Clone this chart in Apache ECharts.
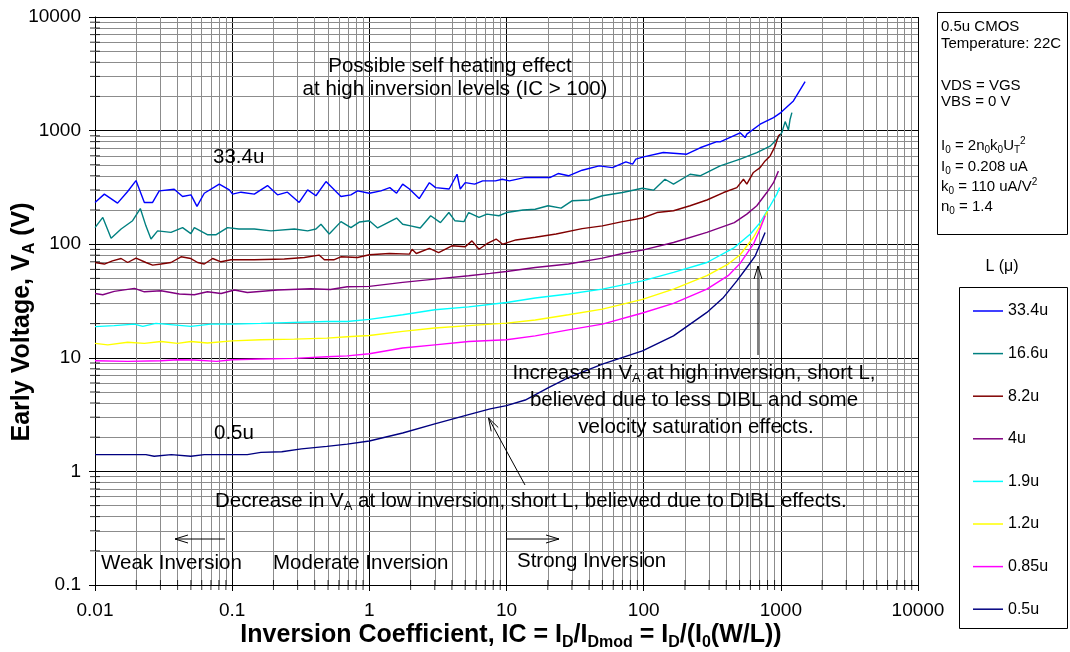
<!DOCTYPE html>
<html>
<head>
<meta charset="utf-8">
<title>Early Voltage vs Inversion Coefficient</title>
<script src="https://cdn.jsdelivr.net/npm/echarts@6/dist/echarts.min.js"></script>
<style>
  html, body { margin: 0; padding: 0; background: #fff; }
  #chart { width: 1070px; height: 652px; }
</style>
</head>
<body>
<div id="chart"></div>
<script>
const s33_4 = [[0.01,233],[0.0117,276],[0.0146,230],[0.0173,291],[0.0199,363],[0.0229,233],[0.0263,233],[0.0294,295],[0.0378,305],[0.0435,263],[0.0501,272],[0.0554,215],[0.0626,281],[0.0805,338],[0.0953,301],[0.1007,276],[0.116,287],[0.145,276],[0.181,328],[0.214,272],[0.253,287],[0.308,233],[0.355,301],[0.408,267],[0.483,356],[0.621,263],[0.734,272],[0.82,295],[1.0,281],[1.215,295],[1.41,315],[1.58,281],[1.75,338],[1.96,306],[2.31,252],[2.74,348],[3.04,315],[3.82,306],[4.36,413],[4.6,306],[5.0,348],[5.86,338],[6.7,361],[8.3,361],[9.3,373],[10.5,361],[13.5,386],[20.7,386],[23.8,419],[28.3,400],[35.6,448],[47.4,489],[59.2,472],[74.2,531],[83.1,506],[87.7,561],[100,587],[139,641],[206,620],[258,706],[342,800],[361,795],[505,957],[549,868],[565,930],[707,1138],[884,1301],[1000,1440],[1235,1826],[1503,2700]];
const s16_6 = [[0.01,140],[0.0114,172],[0.0131,113],[0.0155,136],[0.0188,161],[0.0214,206],[0.0235,145],[0.0256,111],[0.0286,131],[0.0358,127],[0.0435,140],[0.05,124],[0.053,140],[0.0664,121],[0.076,121],[0.0925,140],[0.112,136],[0.145,136],[0.192,131],[0.284,136],[0.355,131],[0.408,136],[0.444,150],[0.51,123],[0.621,158],[0.734,140],[0.85,157],[1.0,161],[1.15,139],[1.58,170],[1.75,150],[2.0,145],[2.35,139],[2.8,178],[3.3,155],[3.8,190],[4.2,161],[4.9,158],[5.3,190],[6.3,172],[7.2,184],[8.8,178],[10,190],[13.2,200],[16.2,203],[20.1,218],[25,208],[30,241],[40,245],[50,267],[70,285],[98,311],[118,299],[143,373],[165,338],[218,413],[258,400],[361,489],[505,561],[668,641],[836,730],[935,838],[1017,960],[1075,1200],[1136,1011],[1166,1245],[1204,1440]];
const s8_2 = [[0.01,69],[0.0117,66.9],[0.0134,71.4],[0.0155,74.8],[0.0173,69],[0.0199,75.5],[0.0235,69],[0.0263,65.5],[0.0303,66.9],[0.0358,69],[0.0424,77.5],[0.05,74.8],[0.056,69],[0.0626,66.9],[0.072,74.8],[0.0829,70],[0.098,72.9],[0.145,72.9],[0.24,74],[0.336,76.4],[0.43,80.2],[0.47,72.9],[0.55,72.9],[0.62,77.5],[0.82,76.4],[1.0,80.7],[1.4,82.8],[1.96,81.7],[2.05,90.2],[2.2,82.8],[2.74,91.9],[3.2,84.4],[4.0,96.8],[5.0,94.9],[5.6,107],[6.3,90.2],[7.2,101],[8.4,111],[9.4,100],[11.7,109],[16.2,115],[23,123],[35.6,137],[50,145],[70,158],[98,170],[125,190],[165,197],[218,218],[289,245],[382,285],[478,315],[534,373],[565,338],[631,428],[706,472],[768,541],[836,599],[909,730],[960,898],[988,930]];
const s4 = [[0.01,36.8],[0.0114,35.9],[0.0138,38.4],[0.0194,40.8],[0.0229,38.1],[0.0303,38.9],[0.0412,36.4],[0.053,35.9],[0.066,38.1],[0.083,36.8],[0.104,39.5],[0.129,37.6],[0.214,39.5],[0.375,40.5],[0.52,39.9],[0.69,42.2],[1.0,42.5],[1.75,46.1],[3.0,49.3],[5.3,52.8],[7.6,55.4],[10,57.5],[16.2,62.4],[28.3,66.9],[50,75.5],[70,82.8],[98,88.6],[165,103.5],[289,127],[458,155],[565,184],[668,218],[790,285],[884,348],[960,440]];
const s1_9 = [[0.01,18.8],[0.0138,19.2],[0.0194,19.8],[0.0223,18.9],[0.0278,20.1],[0.05,18.9],[0.07,19.8],[0.1,19.8],[0.162,20.1],[0.284,20.5],[0.49,20.9],[0.69,20.9],[1.0,21.8],[1.75,23.9],[3.0,26.5],[5.3,28.1],[10,30.7],[16.2,33.6],[28.3,36.4],[50,40.2],[98,47.6],[165,56.5],[289,69],[458,93.5],[600,123],[706,155],[836,218],[935,276],[980,315]];
const s1_2 = [[0.01,13.4],[0.0124,13.0],[0.0173,13.7],[0.0229,13.4],[0.0303,13.9],[0.04,13.4],[0.05,13.9],[0.066,13.5],[0.1,14.1],[0.162,14.4],[0.284,14.6],[0.49,14.9],[0.69,15.3],[1.0,15.7],[1.75,17.1],[3.0,18.3],[5.3,19.2],[10,20.2],[16.2,21.5],[28.3,23.9],[50,26.8],[98,32.7],[165,40.2],[289,52.8],[413,66.9],[505,80.7],[631,114.5],[728,155],[800,195]];
const s0_85 = [[0.01,9.43],[0.0173,9.3],[0.0303,9.43],[0.04,9.6],[0.053,9.56],[0.077,9.3],[0.1,9.6],[0.162,9.76],[0.284,9.88],[0.49,10.2],[0.69,10.4],[1.0,10.85],[1.75,12.2],[3.0,13.0],[5.3,13.9],[10,14.4],[16.2,15.6],[28.3,17.6],[50,19.8],[98,24.8],[165,30.1],[289,40.2],[413,52.8],[505,67.8],[631,100],[706,136],[768,178]];
const s0_5 = [[0.01,1.405],[0.0235,1.405],[0.027,1.36],[0.036,1.405],[0.05,1.36],[0.0626,1.405],[0.129,1.405],[0.162,1.47],[0.23,1.49],[0.32,1.58],[0.49,1.66],[0.69,1.74],[1.0,1.85],[1.75,2.18],[3.0,2.62],[5.3,3.16],[7.6,3.55],[10,3.79],[13.7,4.25],[20.4,5.49],[28.3,6.7],[50,8.8],[98,11.5],[165,15.6],[289,25.1],[382,34],[478,47.6],[565,62.4],[651,79],[768,127]];

const seriesNames = ["33.4u", "16.6u", "8.2u", "4u", "1.9u", "1.2u", "0.85u", "0.5u"];
const seriesColors = ["#0000ff", "#008080", "#800000", "#800080", "#00ffff", "#ffff00", "#ff00ff", "#000080"];
const seriesData = [s33_4, s16_6, s8_2, s4, s1_9, s1_2, s0_85, s0_5];

// axis decades, minor grid at 2..9 of each
const xDecades = [0.01, 0.1, 1, 10, 100, 1000];
const yDecades = [0.1, 1, 10, 100, 1000];
const minorSteps = [2, 3, 4, 5, 6, 7, 8, 9];

const FONT = "'Liberation Sans', Arial, sans-serif";
const NOTE = 20.5; // annotation font size

function minorValues(decades) {
  const out = [];
  decades.forEach(d => minorSteps.forEach(s => out.push(+(d * s).toPrecision(3))));
  return out;
}
const xMinor = minorValues(xDecades);
const yMinor = minorValues(yDecades);

const chart = echarts.init(document.getElementById("chart"));

// rich styles: n normal, s subscript, p superscript
const richNorm = (size) => ({
  n: { fontSize: size, fontFamily: FONT, lineHeight: size + 4, fill: "#000" },
  s: { fontSize: Math.round(size * 0.65), fontFamily: FONT, lineHeight: Math.round(size * 0.65), verticalAlign: "bottom" },
  p: { fontSize: Math.round(size * 0.65), fontFamily: FONT, lineHeight: Math.round(size * 0.65), verticalAlign: "top" }
});
const richBold = (size) => ({
  n: { fontSize: size, fontFamily: FONT, fontWeight: "bold", lineHeight: size + 6 },
  s: { fontSize: Math.round(size * 0.65), fontFamily: FONT, fontWeight: "bold", lineHeight: Math.round(size * 0.65), verticalAlign: "bottom" }
});

function label(text, x, y, opts) {
  opts = opts || {};
  return {
    type: "text", x: x, y: y, rotation: opts.rotation || 0, z: 100, silent: true,
    style: {
      text: text, fill: "#000", fontFamily: FONT, fontSize: opts.size || NOTE,
      fontWeight: opts.bold ? "bold" : "normal",
      align: opts.align || "left", verticalAlign: "middle",
      rich: opts.rich
    }
  };
}

// arrow with an open head at (x2, y2)
function arrow(x1, y1, x2, y2) {
  const len = Math.hypot(x2 - x1, y2 - y1);
  const ux = (x2 - x1) / len, uy = (y2 - y1) / len;
  const bx = x2 - 13 * ux, by = y2 - 13 * uy;
  const px = -uy * 4, py = ux * 4;
  return [
    { type: "polyline", z: 100, silent: true, shape: { points: [[x1, y1], [x2, y2]] }, style: { stroke: "#000", lineWidth: 1, fill: null } },
    { type: "polyline", z: 100, silent: true, shape: { points: [[bx + px, by + py], [x2, y2], [bx - px, by - py]] }, style: { stroke: "#000", lineWidth: 1, fill: null } }
  ];
}

const lineSeries = seriesNames.map((name, i) => ({
  name: name,
  type: "line",
  data: seriesData[i],
  symbol: "none",
  showSymbol: false,
  z: 5,
  lineStyle: { color: seriesColors[i], width: 1.4 },
  itemStyle: { color: seriesColors[i] },
  emphasis: { disabled: true }
}));

const gridSeries = {
  name: "minorGrid",
  type: "line",
  data: [],
  z: 1,
  silent: true,
  markLine: {
    silent: true,
    symbol: "none",
    animation: false,
    label: { show: false },
    emphasis: { disabled: true },
    lineStyle: { color: "#8c8c8c", width: 1, type: "solid" },
    data: xMinor.map(v => ({ xAxis: v })).concat(yMinor.map(v => ({ yAxis: v })))
  }
};

const tickSeries = {
  name: "minorTicks",
  type: "scatter",
  symbol: "rect",
  clip: false,
  silent: true,
  z: 6,
  itemStyle: { color: "#000" },
  emphasis: { disabled: true },
  data: xMinor.map(v => ({ value: [v, 0.1], symbolSize: [1, 10] }))
    .concat(yMinor.map(v => ({ value: [0.01, v], symbolSize: [10, 1] })))
};

const graphics = [
  // info box
  { type: "rect", z: 90, silent: true, shape: { x: 937.5, y: 12.5, width: 130, height: 222 }, style: { fill: "#fff", stroke: "#000", lineWidth: 1 } },
  label("0.5u CMOS", 941, 27, { size: 15 }),
  label("Temperature: 22C", 941, 44, { size: 15 }),
  label("VDS = VGS", 941, 86, { size: 15 }),
  label("VBS = 0 V", 941, 102, { size: 15 }),
  label("{n|I}{s|0}{n| = 2n}{s|0}{n|k}{s|0}{n|U}{s|T}{p|2}", 941, 146, { size: 15, rich: richNorm(15) }),
  label("{n|I}{s|0}{n| = 0.208 uA}", 941, 167, { size: 15, rich: richNorm(15) }),
  label("{n|k}{s|0}{n| = 110 uA/V}{p|2}", 941, 187, { size: 15, rich: richNorm(15) }),
  label("{n|n}{s|0}{n| = 1.4}", 941, 207, { size: 15, rich: richNorm(15) }),
  // legend box and title
  { type: "rect", z: 90, silent: true, shape: { x: 959.5, y: 287.5, width: 108, height: 341 }, style: { fill: "#fff", stroke: "#000", lineWidth: 1 } },
  label("L (μ)", 1002, 267, { size: 16, align: "center" }),
  // annotations
  label("Possible self heating effect", 450, 66, { align: "center" }),
  label("at high inversion levels (IC > 100)", 455, 89, { align: "center" }),
  label("33.4u", 213, 157),
  label("0.5u", 214, 433),
  label("{n|Increase in V}{s|A}{n| at high inversion, short L,}", 694, 373, { align: "center", rich: richNorm(NOTE) }),
  label("believed due to less DIBL and some", 694, 400, { align: "center" }),
  label("velocity saturation effects.", 696, 427, { align: "center" }),
  label("{n|Decrease in V}{s|A}{n| at low inversion, short L, believed due to DIBL effects.}", 215, 501, { rich: richNorm(NOTE) }),
  label("Weak Inversion", 101, 563),
  label("Moderate Inversion", 273, 563),
  label("Strong Inversion", 517, 561),
  // axis titles
  label("{n|Inversion Coefficient, IC = I}{s|D}{n|/I}{s|Dmod}{n| = I}{s|D}{n|/(I}{s|0}{n|(W/L))}", 511, 635, { align: "center", bold: true, size: 25, rich: richBold(25) }),
  label("{n|Early Voltage, V}{s|A}{n| (V)}", 22, 322, { align: "center", bold: true, size: 25, rich: richBold(25), rotation: Math.PI / 2 })
].concat(arrow(225, 539, 175, 539))
 .concat(arrow(506, 539, 559, 539))
 .concat(arrow(525, 485, 488.5, 418))
 .concat(arrow(758, 355, 758, 266));

const numLabel = v => String(+(+v).toPrecision(6));

chart.setOption({
  animation: false,
  backgroundColor: "#fff",
  textStyle: { fontFamily: FONT },
  grid: { left: 95, right: 152, top: 17, bottom: 67, containLabel: false, outerBoundsMode: "none" },
  legend: {
    data: seriesNames,
    orient: "vertical",
    left: 973,
    top: 303,
    padding: 0,
    itemGap: 26.6,
    itemWidth: 30,
    itemHeight: 1.5,
    icon: "rect",
    selectedMode: false,
    z: 95,
    textStyle: { fontSize: 16, lineHeight: 16, color: "#000", fontFamily: FONT }
  },
  xAxis: {
    type: "log",
    logBase: 10,
    min: 0.01,
    max: 10000,
    axisLine: { show: true, onZero: false, lineStyle: { color: "#000", width: 1 } },
    axisTick: { show: true, length: 6, lineStyle: { color: "#000" } },
    axisLabel: { color: "#000", fontSize: 19, fontFamily: FONT, margin: 16, formatter: numLabel },
    splitLine: { show: true, lineStyle: { color: "#000", width: 1 } }
  },
  yAxis: {
    type: "log",
    logBase: 10,
    min: 0.1,
    max: 10000,
    axisLine: { show: true, onZero: false, lineStyle: { color: "#000", width: 1 } },
    axisTick: { show: true, length: 6, lineStyle: { color: "#000" } },
    axisLabel: { color: "#000", fontSize: 19, fontFamily: FONT, margin: 14, formatter: numLabel },
    splitLine: { show: true, lineStyle: { color: "#000", width: 1 } }
  },
  graphic: graphics,
  series: [gridSeries, tickSeries].concat(lineSeries)
});
</script>
</body>
</html>
